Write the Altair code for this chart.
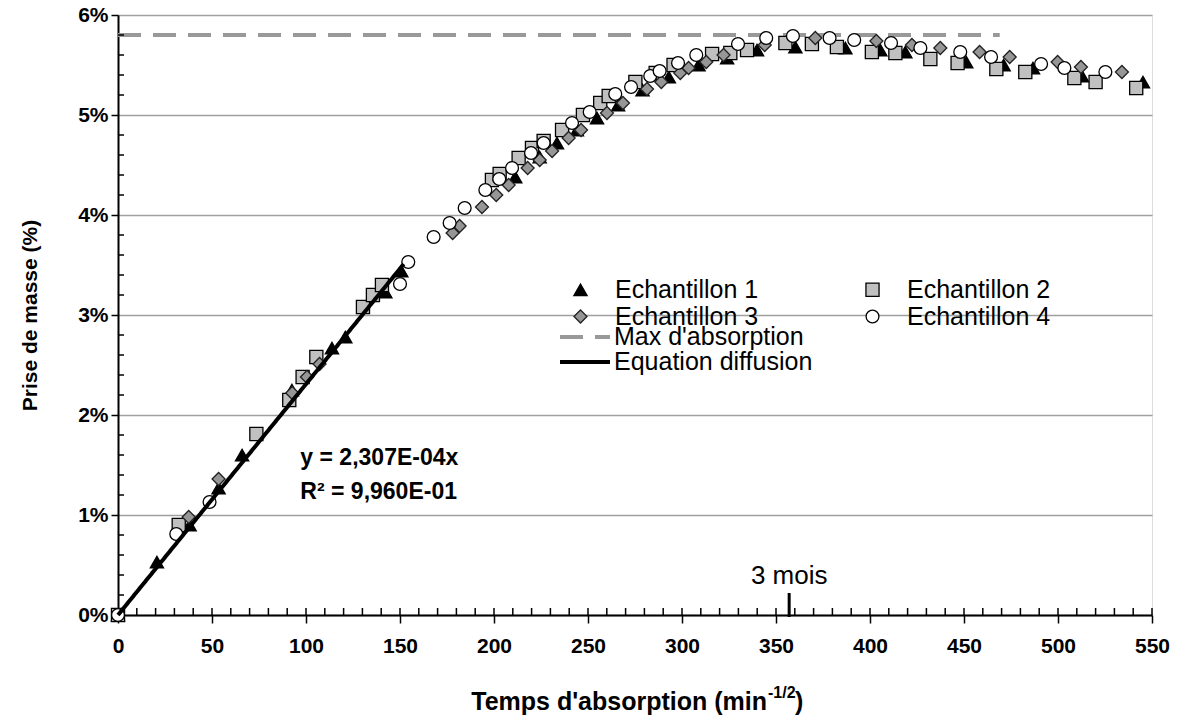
import altair as alt
import pandas as pd

# ---------------- data ----------------
x_e1 = [0, 20.7, 38.1, 53.5, 66.0, 92.5, 113.8, 120.9, 142.2, 150.7, 211.3, 224.3, 233.5, 244.1,
        254.8, 266.0, 279.0, 293.0, 308.8, 324.0, 339.9, 360.3, 386.9, 405.5, 418.8, 451.2,
        471.1, 486.7, 512.8, 545.2]
y_e1 = [0, 0.53, 0.90, 1.27, 1.60, 2.25, 2.67, 2.78, 3.23, 3.44, 4.38, 4.58, 4.72, 4.85,
        4.97, 5.10, 5.25, 5.38, 5.50, 5.57, 5.65, 5.68, 5.67, 5.65, 5.63, 5.53,
        5.50, 5.47, 5.39, 5.33]

x_e2 = [0, 32.3, 73.6, 91.1, 98.2, 105.5, 130.3, 135.6, 140.4, 198.9, 203.0, 213.1, 220.2,
        226.4, 236.2, 247.3, 256.5, 261.0, 275.2, 286.0, 295.5, 316.0, 325.7, 334.6, 355.0,
        369.1, 382.4, 401.0, 413.5, 432.1, 446.6, 467.2, 482.6, 508.7, 520.0, 541.6]
y_e2 = [0, 0.90, 1.81, 2.15, 2.38, 2.58, 3.08, 3.20, 3.30, 4.35, 4.41, 4.57, 4.67,
        4.74, 4.85, 5.00, 5.12, 5.19, 5.33, 5.42, 5.50, 5.61, 5.62, 5.65, 5.72,
        5.71, 5.68, 5.63, 5.62, 5.56, 5.52, 5.46, 5.43, 5.37, 5.33, 5.27]

x_e3 = [37.6, 53.5, 92.7, 100.5, 107.2, 178.0, 181.7, 193.6, 201.2, 207.8, 217.9, 224.3,
        230.9, 239.7, 246.3, 260.1, 268.6, 281.4, 289.0, 299.1, 303.5, 312.9, 322.1, 344.0,
        370.9, 403.4, 422.3, 437.4, 458.3, 474.3, 499.8, 512.2, 534.0]
y_e3 = [0.98, 1.36, 2.22, 2.38, 2.51, 3.82, 3.89, 4.08, 4.20, 4.30, 4.47, 4.55,
        4.64, 4.77, 4.85, 5.02, 5.12, 5.26, 5.33, 5.42, 5.47, 5.53, 5.60, 5.70,
        5.77, 5.74, 5.70, 5.67, 5.63, 5.58, 5.53, 5.48, 5.43]

x_e4 = [0, 31.0, 48.7, 150.0, 154.4, 167.9, 176.4, 184.4, 195.4, 202.8, 209.6, 219.7, 226.4,
        241.5, 250.9, 264.5, 272.9, 283.1, 288.1, 297.9, 307.6, 329.8, 344.8, 359.0, 378.5,
        391.6, 411.2, 426.8, 448.0, 464.4, 491.0, 503.4, 525.2]
y_e4 = [0, 0.81, 1.13, 3.31, 3.53, 3.78, 3.92, 4.07, 4.25, 4.36, 4.47, 4.62, 4.72,
        4.92, 5.03, 5.21, 5.28, 5.39, 5.44, 5.52, 5.60, 5.71, 5.77, 5.79, 5.77,
        5.75, 5.72, 5.67, 5.63, 5.58, 5.51, 5.47, 5.43]

series_names = ["Echantillon 1", "Echantillon 2", "Echantillon 3", "Echantillon 4"]
series_shapes = ["triangle-up", "square", "diamond", "circle"]
series_fills = ["#000000", "#C0C0C0", "#969696", "#FFFFFF"]
series_strokes = ["#000000", "#000000", "#222222", "#000000"]
series_sizes = [175, 165, 190, 165]

line_names = ["Max d'absorption", "Equation diffusion"]
line_colors = ["#999999", "#000000"]
line_dashes = [[23, 12], [1, 0]]

max_x = [0, 469]
max_y = 5.8
eq_x = [0, 152]
eq_y = [0, 3.51]

mois_x = 357
x_ticks = list(range(0, 551, 50))
x_minor = list(range(10, 551, 10))
y_ticks = [0, 1, 2, 3, 4, 5, 6]
y_minor = [round(i * 0.2, 1) for i in range(1, 30) if i % 5 != 0]

FONT = "Liberation Sans"

# ---------------- tables ----------------
pts = pd.concat([
    pd.DataFrame({"x": x_e1, "y": y_e1, "serie": series_names[0]}),
    pd.DataFrame({"x": x_e2, "y": y_e2, "serie": series_names[1]}),
    pd.DataFrame({"x": x_e3, "y": y_e3, "serie": series_names[2]}),
    pd.DataFrame({"x": x_e4, "y": y_e4, "serie": series_names[3]}),
], ignore_index=True)
pts["order"] = pts["serie"].map({n: i for i, n in enumerate(series_names)})

max_df = pd.DataFrame({"x": [max_x[0]], "x2": [max_x[1]], "y": [max_y], "ligne": [line_names[0]]})
eq_df = pd.DataFrame({"x": eq_x, "y": eq_y, "ligne": line_names[1]})

xs = alt.Scale(domain=[0, 550], nice=False, zero=False)
ys = alt.Scale(domain=[0, 6], nice=False, zero=False)

x_axis = alt.Axis(values=x_ticks, title=None, grid=False, labelFont=FONT, labelFontSize=21,
                  labelFontWeight="bold", labelColor="black", labelPadding=12, tickSize=8,
                  tickColor="black", tickWidth=1.5, domainColor="black", domainWidth=2,
                  labelFlush=False)
y_axis = alt.Axis(values=y_ticks, title="Prise de masse (%)", labelExpr="datum.value + '%'",
                  grid=True, gridColor="#A0A0A0", gridWidth=1.5, labelFont=FONT,
                  labelFontSize=21, labelFontWeight="bold", labelColor="black", labelPadding=3,
                  tickSize=7, tickColor="black", tickWidth=1.5, domainColor="black",
                  domainWidth=2, titleFont=FONT, titleFontSize=21, titleFontWeight="bold",
                  titleColor="black", titleX=-88, titleY=300, titleAngle=270,
                  titleAlign="center", titleBaseline="middle", labelFlush=False)

sym_legend = alt.Legend(title=None, orient="none", legendX=450, legendY=262, columns=2,
                        direction="horizontal", columnPadding=101, rowPadding=1,
                        labelFont=FONT, labelFontSize=25, labelColor="black",
                        symbolStrokeWidth=1.3, labelOffset=22, labelLimit=400)
line_legend = alt.Legend(title=None, orient="none", legendX=440, legendY=310,
                         direction="vertical",
                         symbolType="stroke", symbolSize=2500, symbolStrokeWidth=4,
                         labelFont=FONT, labelFontSize=25, labelColor="black", labelOffset=2,
                         rowPadding=0, clipHeight=24, labelLimit=400)

# ---------------- layers ----------------
max_line = alt.Chart(max_df).mark_rule(strokeWidth=4).encode(
    x=alt.X("x:Q", scale=xs, axis=x_axis),
    x2="x2:Q",
    y=alt.Y("y:Q", scale=ys, axis=y_axis),
    color=alt.Color("ligne:N", scale=alt.Scale(domain=line_names, range=line_colors),
                    legend=line_legend),
    strokeDash=alt.StrokeDash("ligne:N", scale=alt.Scale(domain=line_names, range=line_dashes),
                              legend=line_legend),
)

points = alt.Chart(pts).mark_point(filled=True, opacity=1, strokeWidth=1.3).encode(
    x=alt.X("x:Q", scale=xs),
    y=alt.Y("y:Q", scale=ys),
    shape=alt.Shape("serie:N", scale=alt.Scale(domain=series_names, range=series_shapes),
                    legend=sym_legend),
    fill=alt.Fill("serie:N", scale=alt.Scale(domain=series_names, range=series_fills),
                  legend=sym_legend),
    stroke=alt.Stroke("serie:N", scale=alt.Scale(domain=series_names, range=series_strokes),
                      legend=sym_legend),
    size=alt.Size("serie:N", scale=alt.Scale(domain=series_names, range=series_sizes),
                  legend=sym_legend),
    order=alt.Order("order:Q"),
)

eq_line = alt.Chart(eq_df).mark_line(strokeWidth=4).encode(
    x=alt.X("x:Q", scale=xs),
    y=alt.Y("y:Q", scale=ys),
    color=alt.Color("ligne:N", scale=alt.Scale(domain=line_names, range=line_colors),
                    legend=line_legend),
    strokeDash=alt.StrokeDash("ligne:N", scale=alt.Scale(domain=line_names, range=line_dashes),
                              legend=line_legend),
)

x_minor_ticks = alt.Chart(pd.DataFrame({"t": x_minor})).mark_rule(
    color="black", strokeWidth=1.5).encode(
    x=alt.X("t:Q", scale=xs), y=alt.value(593), y2=alt.value(600))

y_minor_ticks = alt.Chart(pd.DataFrame({"t": y_minor})).mark_rule(
    color="black", strokeWidth=1.5).encode(
    y=alt.Y("t:Q", scale=ys), x=alt.value(0), x2=alt.value(6))

mois_df = pd.DataFrame({"x": [mois_x], "y0": [-0.02], "y1": [0.22], "ty": [0.25],
                        "label": ["3 mois"]})
mois_rule = alt.Chart(mois_df).mark_rule(color="black", strokeWidth=3).encode(
    x=alt.X("x:Q", scale=xs), y=alt.Y("y0:Q", scale=ys), y2="y1:Q")
mois_text = alt.Chart(mois_df).mark_text(font=FONT, fontSize=26, color="black",
                                         baseline="bottom", align="center", dy=-1).encode(
    x=alt.X("x:Q", scale=xs), y=alt.Y("ty:Q", scale=ys), text="label:N")

eq_txt_df = pd.DataFrame({"x": [97, 97], "y": [1.57, 1.23],
                          "t": ["y = 2,307E-04x", "R² = 9,960E-01"]})
eq_text = alt.Chart(eq_txt_df).mark_text(font=FONT, fontSize=23, fontWeight="bold",
                                         color="black", align="left", baseline="middle").encode(
    x=alt.X("x:Q", scale=xs), y=alt.Y("y:Q", scale=ys), text="t:N")

title_main = alt.Chart(pd.DataFrame({"t": ["Temps d'absorption (min"]})).mark_text(
    font=FONT, fontSize=25, fontWeight="bold", color="black", align="right",
    baseline="alphabetic").encode(x=alt.value(649), y=alt.value(695), text="t:N")
title_sup = alt.Chart(pd.DataFrame({"t": ["-1/2"]})).mark_text(
    font=FONT, fontSize=16, fontWeight="bold", color="black", align="left",
    baseline="alphabetic").encode(x=alt.value(650), y=alt.value(683), text="t:N")
title_end = alt.Chart(pd.DataFrame({"t": [")"]})).mark_text(
    font=FONT, fontSize=25, fontWeight="bold", color="black", align="left",
    baseline="alphabetic").encode(x=alt.value(677), y=alt.value(695), text="t:N")

chart = alt.layer(
    max_line, points, eq_line, x_minor_ticks, y_minor_ticks, mois_rule, mois_text, eq_text,
    title_main, title_sup, title_end,
).properties(
    width=1034, height=600,
    autosize=alt.AutoSizeParams(type="none"),
    padding={"left": 118, "top": 15, "right": 26, "bottom": 105},
).configure_view(
    stroke="#999999", strokeWidth=2,
).configure(background="white")

chart.save("out.html", embed_options={"renderer": "svg", "actions": False})
